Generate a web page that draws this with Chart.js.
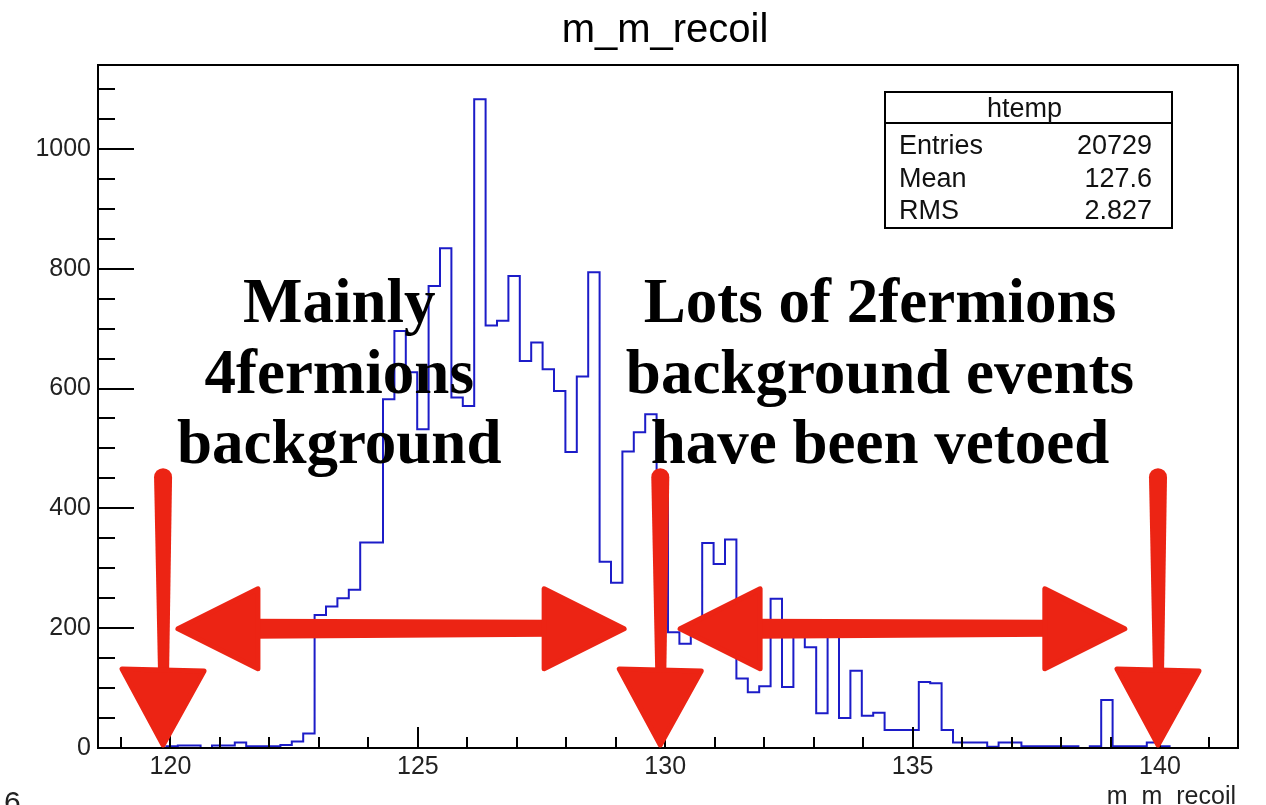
<!DOCTYPE html>
<html><head><meta charset="utf-8">
<script src="https://cdn.jsdelivr.net/npm/chart.js@4.4.1/dist/chart.umd.min.js"></script>
<style>html,body{margin:0;padding:0;background:#fff;overflow:hidden}#wrap{width:1266px;height:805px;position:relative}</style>
</head><body><div id="wrap"><canvas id="c" width="1266" height="805"></canvas></div>
<script>
// ---- data ----
const chartTitle = 'm_m_recoil';
const xAxisTitle = 'm_m_recoil';
const pageNumber = '6';
const xMin = 118.535;
const xMax = 141.577;
const nBins = 100;
const binCounts = [
  0, 0, 0, 0, 0, 0, 3, 4, 4, 0,
  4, 4, 9, 3, 3, 3, 5, 11, 24, 222,
  236, 250, 264, 343, 343, 582, 696, 627, 532, 771,
  834, 585, 571, 1083, 705, 713, 788, 646, 677, 632,
  596, 494, 620, 794, 311, 276, 495, 527, 557, 420,
  193, 174, 200, 342, 307, 348, 116, 93, 103, 249,
  102, 200, 168, 58, 200, 50, 129, 54, 59, 30,
  30, 30, 110, 108, 30, 9, 9, 9, 2, 9,
  9, 3, 3, 3, 3, 3, 0, 3, 80, 3,
  3, 3, 9, 3, 0, 0, 0, 0, 0, 0
];
const xTickValues = [120, 125, 130, 135, 140];
const yTickValues = [0, 200, 400, 600, 800, 1000];
const yMax = 1140;
const statsTitle = 'htemp';
const statsLabels = ['Entries', 'Mean', 'RMS'];
const statsValues = ['20729', '127.6', '2.827'];
const leftNote = ['Mainly', '4fermions', 'background'];
const rightNote = ['Lots of 2fermions', 'background events', 'have been vetoed'];
const noteCenterX = [123.41, 134.34];
const noteBaselineY = [711, 593, 476];
const cutArrowX = [119.85, 129.9, 139.96];
const cutArrowTopY = 467;
const rangeArrows = [[120.09, 129.23], [130.24, 139.35]];
const rangeArrowY = 199;

// ---- build histogram outline ----
const binW = (xMax - xMin) / nBins;
const edges = binCounts.map((_, i) => xMin + i * binW);
const histPoints = binCounts.map((c, i) => ({x: edges[i], y: c}));
histPoints.push({x: xMax, y: binCounts[nBins - 1]});

const RED = '#ec2414';
const SANS = '"Liberation Sans", Arial, Helvetica, sans-serif';
const SERIF = '"Liberation Serif", "Times New Roman", serif';

function vArrow(ctx, px, pyTop, pyTip) {
  const headLen = 76, headHalf = 41;
  const hb = pyTip - headLen;
  ctx.beginPath();
  ctx.moveTo(px - 9, pyTop + 9);
  ctx.arc(px, pyTop + 9, 9, Math.PI, 0);
  ctx.lineTo(px + 6, hb + 6);
  ctx.lineTo(px - 5, hb + 6);
  ctx.closePath();
  ctx.fill();
  ctx.beginPath();
  ctx.moveTo(px - headHalf, hb);
  ctx.lineTo(px + headHalf, hb + 2);
  ctx.lineTo(px, pyTip);
  ctx.closePath();
  ctx.fill(); ctx.stroke();
}
function hArrow(ctx, pl, pr, py) {
  const headLen = 80, headHalf = 40;
  ctx.beginPath();
  ctx.moveTo(pl + headLen - 4, py - 10);
  ctx.lineTo(pr - headLen + 4, py - 9);
  ctx.lineTo(pr - headLen + 4, py + 8);
  ctx.lineTo(pl + headLen - 4, py + 10);
  ctx.closePath();
  ctx.fill();
  ctx.beginPath();
  ctx.moveTo(pl, py);
  ctx.lineTo(pl + headLen, py - headHalf);
  ctx.lineTo(pl + headLen, py + headHalf);
  ctx.closePath();
  ctx.fill(); ctx.stroke();
  ctx.beginPath();
  ctx.moveTo(pr, py);
  ctx.lineTo(pr - headLen, py - headHalf);
  ctx.lineTo(pr - headLen, py + headHalf);
  ctx.closePath();
  ctx.fill(); ctx.stroke();
}

const overlay = {
  id: 'overlay',
  afterDraw(chart) {
    const {ctx, chartArea: a, scales: {x, y}} = chart;
    ctx.save();
    // frame
    ctx.strokeStyle = '#000';
    ctx.lineWidth = 2;
    ctx.strokeRect(a.left, a.top, a.right - a.left, a.bottom - a.top);
    // inward ticks
    ctx.beginPath();
    for (let v = Math.ceil(xMin); v <= xMax; v++) {
      const px = Math.round(x.getPixelForValue(v));
      const len = (v % 5 === 0) ? 21 : 11;
      ctx.moveTo(px, a.bottom); ctx.lineTo(px, a.bottom - len);
    }
    for (let v = 0; v <= yMax; v += 50) {
      const py = Math.round(y.getPixelForValue(v));
      const len = (v % 200 === 0) ? 36 : 17;
      ctx.moveTo(a.left, py); ctx.lineTo(a.left + len, py);
    }
    ctx.stroke();

    // title
    ctx.fillStyle = '#000';
    ctx.font = '40px ' + SANS;
    ctx.textAlign = 'center';
    ctx.textBaseline = 'alphabetic';
    ctx.fillText(chartTitle, (a.left + a.right) / 2 - 3, 42);

    // x axis title (bottom right, partly clipped by page edge)
    ctx.font = '25px ' + SANS;
    ctx.textAlign = 'right';
    ctx.fillStyle = '#222';
    ctx.fillText(xAxisTitle, a.right - 2, 804);

    // page number
    ctx.font = '30px ' + SANS;
    ctx.textAlign = 'left';
    ctx.fillStyle = '#222';
    ctx.fillText(pageNumber, 4, 812);

    // stats box
    const bl = a.right - 353, br = a.right - 66, bt = a.top + 27, bb = a.top + 163;
    ctx.fillStyle = '#fff';
    ctx.fillRect(bl, bt, br - bl, bb - bt);
    ctx.strokeStyle = '#000';
    ctx.lineWidth = 2;
    ctx.strokeRect(bl, bt, br - bl, bb - bt);
    ctx.beginPath();
    ctx.moveTo(bl, bt + 31); ctx.lineTo(br, bt + 31);
    ctx.stroke();
    ctx.fillStyle = '#111';
    ctx.font = '27px ' + SANS;
    ctx.textAlign = 'center';
    ctx.fillText(statsTitle, (bl + br) / 2 - 4, bt + 25);
    statsLabels.forEach((lab, i) => {
      const base = bt + 62 + i * 32.5;
      ctx.textAlign = 'left';
      ctx.fillText(lab, bl + 14, base);
      ctx.textAlign = 'right';
      ctx.fillText(statsValues[i], br - 20, base);
    });

    // notes
    ctx.fillStyle = '#000';
    ctx.font = 'bold 63px ' + SERIF;
    ctx.textAlign = 'center';
    [leftNote, rightNote].forEach((lines, k) => {
      const cx = x.getPixelForValue(noteCenterX[k]);
      lines.forEach((t, i) => ctx.fillText(t, cx, y.getPixelForValue(noteBaselineY[i])));
    });

    // red arrows
    ctx.fillStyle = RED;
    ctx.strokeStyle = RED;
    ctx.lineWidth = 5;
    ctx.lineJoin = 'round';
    rangeArrows.forEach(([xa, xb]) => hArrow(ctx, x.getPixelForValue(xa) + 3, x.getPixelForValue(xb) - 3, y.getPixelForValue(rangeArrowY)));
    cutArrowX.forEach(xv => vArrow(ctx, x.getPixelForValue(xv), y.getPixelForValue(cutArrowTopY), y.getPixelForValue(0) - 3));
    ctx.restore();
  }
};

new Chart(document.getElementById('c'), {
  type: 'line',
  data: {
    datasets: [{
      data: histPoints,
      stepped: true,
      borderColor: '#1c1cc8',
      borderWidth: 2,
      borderJoinStyle: 'miter',
      pointRadius: 0,
      fill: false,
      tension: 0
    }]
  },
  options: {
    responsive: false,
    devicePixelRatio: 1,
    animation: false,
    events: [],
    layout: {padding: {left: 0, right: 28, top: 65, bottom: 0}},
    plugins: {legend: {display: false}, title: {display: false}, tooltip: {enabled: false}},
    scales: {
      x: {
        type: 'linear', min: xMin, max: xMax,
        grid: {display: false, drawTicks: false},
        border: {display: false},
        afterBuildTicks: s => { s.ticks = xTickValues.map(v => ({value: v})); },
        afterFit: s => { s.height = 57; },
        ticks: {padding: 4, color: '#222', font: {family: SANS, size: 25}, maxRotation: 0, autoSkip: false,
                callback: v => String(v)}
      },
      y: {
        type: 'linear', min: 0, max: yMax,
        grid: {display: false, drawTicks: false},
        border: {display: false},
        afterBuildTicks: s => { s.ticks = yTickValues.map(v => ({value: v})); },
        afterFit: s => { s.width = 98; },
        ticks: {padding: 7, color: '#222', font: {family: SANS, size: 25},
                callback: v => String(v)}
      }
    }
  },
  plugins: [overlay]
});
</script>
</body></html>
